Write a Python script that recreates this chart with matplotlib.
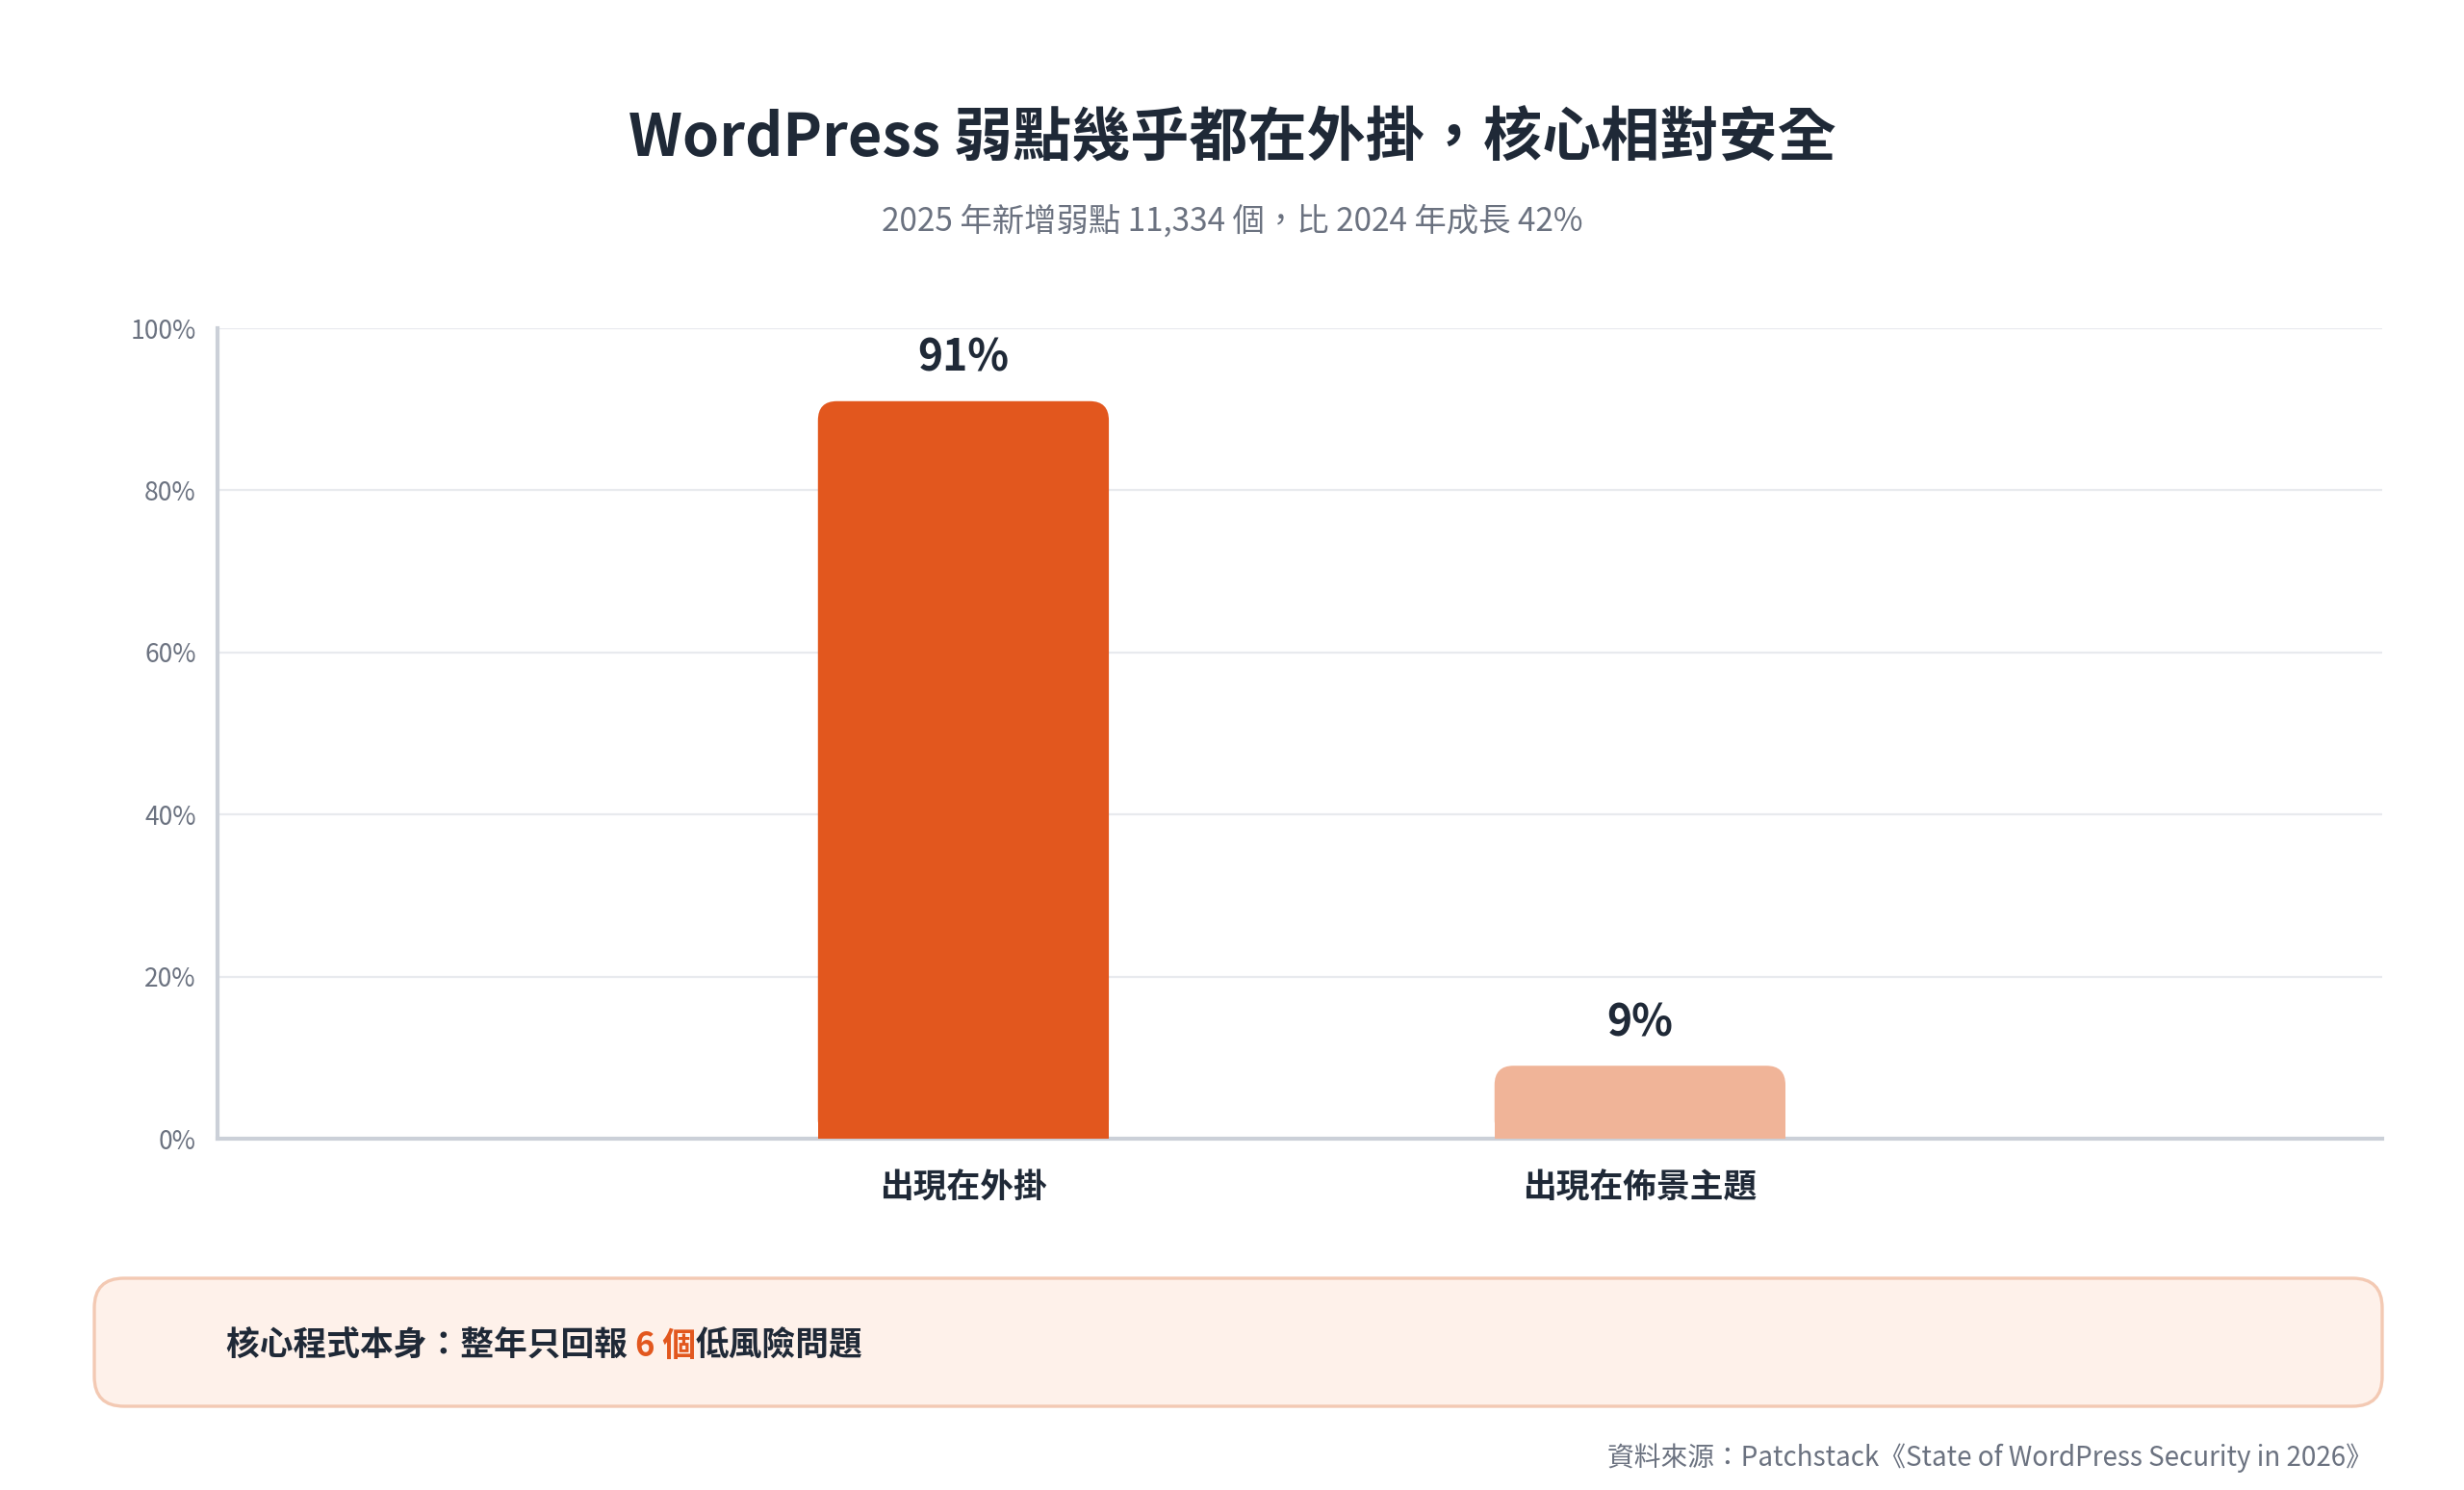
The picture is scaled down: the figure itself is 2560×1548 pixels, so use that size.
import matplotlib
matplotlib.use("Agg")
import matplotlib.pyplot as plt
from matplotlib.patches import FancyBboxPatch, Rectangle, Polygon
from matplotlib.path import Path
from matplotlib.patches import PathPatch

plt.rcParams['font.family'] = ['Noto Sans CJK TC', 'DejaVu Sans']

categories = ['出現在外掛', '出現在佈景主題']
values = [91, 9]
bar_labels = ['91%', '9%']
colors = ['#E2571E', '#F0B498']
yticks = [0, 20, 40, 60, 80, 100]
ytick_labels = ['0%', '20%', '40%', '60%', '80%', '100%']

W, H = 2560, 1548
fig = plt.figure(figsize=(12.8, 7.74), dpi=200)
fig.patch.set_facecolor('white')

fig.text(0.5, 1 - 144 / H, 'WordPress 弱點幾乎都在外掛，核心相對安全', ha='center', va='center',
         fontsize=22, fontweight='bold', color='#1F2937')
fig.text(0.5, 1 - 230 / H, '2025 年新增弱點 11,334 個，比 2024 年成長 42%', ha='center', va='center',
         fontsize=12, color='#6B7280')

ax = fig.add_axes([226 / W, 365 / H, (2475 - 226) / W, (1183 - 341) / H])
ax.set_xlim(-1.1024, 2.097)
ax.set_ylim(0, 100)
bw = 0.43
for i, (v, c, lab) in enumerate(zip(values, colors, bar_labels)):
    r = 0.028
    p = FancyBboxPatch((i - bw / 2, 0), bw, v, boxstyle=f"round,pad=0,rounding_size={r}",
                       mutation_aspect=85, facecolor=c, edgecolor='none', zorder=3)
    ax.add_patch(p)
    ax.add_patch(Rectangle((i - bw / 2, 0), bw, v / 2, facecolor=c, edgecolor='none', zorder=3))
    ax.text(i, v + 2.5, lab, ha='center', va='bottom', fontsize=16, fontweight='bold',
            color='#1F2937', zorder=4)

ax.set_yticks(yticks)
ax.set_yticklabels(ytick_labels, fontsize=9.5, color='#6B7280')
ax.set_xticks(range(len(categories)))
ax.set_xticklabels(categories, fontsize=12.5, fontweight='bold', color='#1F2937')
ax.tick_params(axis='both', length=0)
ax.tick_params(axis='y', pad=8)
ax.tick_params(axis='x', pad=12)
ax.grid(axis='y', color='#E8EAEE', linewidth=0.8, zorder=0)
ax.set_axisbelow(True)
for s in ['top', 'right']:
    ax.spines[s].set_visible(False)
for s in ['left', 'bottom']:
    ax.spines[s].set_color('#CBD0D8')
    ax.spines[s].set_linewidth(1.5)

# callout box
bx0, bx1, by0, by1 = 98 / W, 2475 / W, 1 - 1461 / H, 1 - 1328 / H
box = FancyBboxPatch((bx0, by0), bx1 - bx0, by1 - by0, boxstyle="round,pad=0,rounding_size=0.012",
                     mutation_aspect=W / H, transform=fig.transFigure, facecolor='#FEF1EA',
                     edgecolor='#F3C9B3', linewidth=1.2)
fig.add_artist(box)

# shield icon
iax = fig.add_axes([150 / W, 1 - 1420 / H, 52 / W, 52 / H])
iax.set_xlim(-1.2, 1.2); iax.set_ylim(-1.3, 1.1); iax.axis('off')
verts = [(0, 1.0), (0.8, 0.7), (0.8, 0.0), (0.8, -0.6), (0, -1.15),
         (-0.8, -0.6), (-0.8, 0.0), (-0.8, 0.7), (0, 1.0)]
codes = [Path.MOVETO, Path.LINETO, Path.LINETO, Path.CURVE3, Path.CURVE3,
         Path.CURVE3, Path.CURVE3, Path.LINETO, Path.CLOSEPOLY]
iax.add_patch(PathPatch(Path(verts, codes), facecolor='none', edgecolor='#E2571E', linewidth=2.2,
                        joinstyle='round'))
iax.plot([-0.32, -0.07, 0.35], [-0.08, -0.33, 0.25], color='#E2571E', linewidth=2.2,
         solid_capstyle='round', solid_joinstyle='round')

# callout text pieces
fig.canvas.draw()
renderer = fig.canvas.get_renderer()
x = 235 / W
yc = 1 - 1398 / H
for txt, col in [('核心程式本身：整年只回報 ', '#1F2937'), ('6 個', '#E2571E'), ('低風險問題', '#1F2937')]:
    t = fig.text(x, yc, txt, ha='left', va='center', fontsize=12.5, fontweight='bold', color=col)
    bb = t.get_window_extent(renderer)
    x += bb.width / W

fig.text(2465 / W, 1 - 1515 / H, '資料來源：Patchstack《State of WordPress Security in 2026》',
         ha='right', va='center', fontsize=10, color='#6B7280')

fig.savefig('out.png', dpi=200, facecolor='white')
